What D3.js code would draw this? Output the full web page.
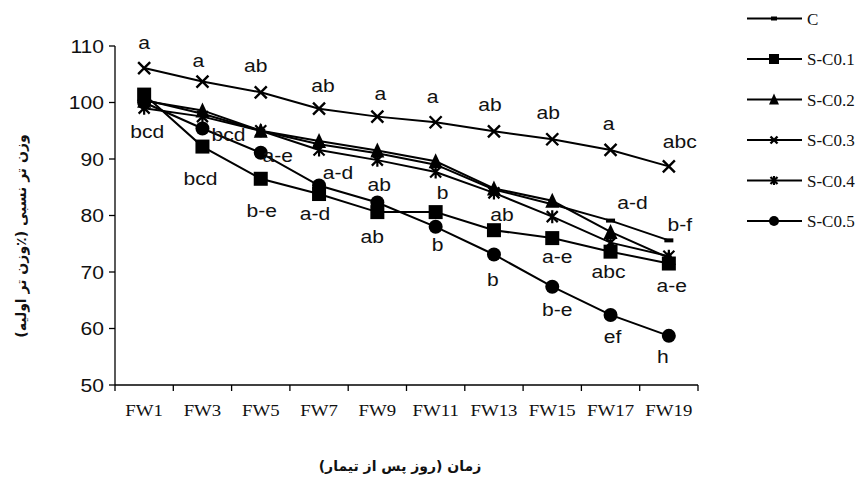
<!DOCTYPE html>
<html>
<head>
<meta charset="utf-8">
<script src="https://cdn.jsdelivr.net/npm/d3@7/dist/d3.min.js"></script>
<style>
  html, body { margin: 0; padding: 0; background: #fff; }
  svg { display: block; }
</style>
</head>
<body>
<svg id="chart" width="861" height="477"></svg>
<script>
// Sampling times (fresh weight measurements)
const categories = ["FW1", "FW3", "FW5", "FW7", "FW9", "FW11", "FW13", "FW15", "FW17", "FW19"];
const yTicks = [50, 60, 70, 80, 90, 100, 110];

// Relative fresh weight (% of initial) per treatment
const seriesNames = ["C", "S-C0.1", "S-C0.2", "S-C0.3", "S-C0.4", "S-C0.5"];
const valuesC    = [100.5, 98.0, 95.0, 92.6, 91.0, 89.0, 84.6, 82.0, 79.1, 75.6];
const valuesSC01 = [101.4, 92.2, 86.5, 83.8, 80.6, 80.6, 77.4, 76.0, 73.6, 71.5];
const valuesSC02 = [100.3, 98.6, 95.0, 93.2, 91.5, 89.6, 84.8, 82.6, 77.1, 72.5];
const valuesSC03 = [106.1, 103.7, 101.8, 98.9, 97.5, 96.5, 94.9, 93.5, 91.6, 88.7];
const valuesSC04 = [99.0, 97.5, 95.0, 91.6, 89.8, 87.7, 84.0, 79.8, 75.2, 72.8];
const valuesSC05 = [100.0, 95.4, 91.1, 85.3, 82.3, 78.0, 73.1, 67.4, 62.4, 58.7];
const seriesValues = [valuesC, valuesSC01, valuesSC02, valuesSC03, valuesSC04, valuesSC05];
const markerTypes = ["dash", "square", "triangle", "cross", "star", "circle"];

// Mean-separation letters: [series index, point index, letters]
const letterLabels = [
  [3, 0, "a"], [3, 1, "a"], [3, 2, "ab"], [3, 3, "ab"], [3, 4, "a"],
  [3, 5, "a"], [3, 6, "ab"], [3, 7, "ab"], [3, 8, "a"], [3, 9, "abc"],
  [4, 0, "bcd"], [5, 1, "bcd"], [5, 2, "a-e"], [1, 1, "bcd"], [1, 2, "b-e"],
  [5, 3, "a-d"], [1, 3, "a-d"], [5, 4, "ab"], [1, 4, "ab"], [1, 5, "b"],
  [5, 5, "b"], [1, 6, "ab"], [5, 6, "b"], [1, 7, "a-e"], [5, 7, "b-e"],
  [0, 8, "a-d"], [1, 8, "abc"], [5, 8, "ef"], [0, 9, "b-f"], [1, 9, "a-e"],
  [5, 9, "h"]
];
// Offsets (px) of each letter group from its point, same order as above
const letterNudge = [
  [0, -25], [-4, -21], [-5, -26], [4, -23], [3, -23],
  [-3, -25], [-4, -26], [-4, -26], [-2, -26], [11, -24],
  [3, 24], [26, 7], [17, 3], [-2, 32], [1, 32],
  [19, -13], [-4, 20], [2, -18], [-5, 25], [7, -19],
  [2, 18], [8, -15], [-1, 26], [5, 19], [5, 23],
  [22, -18], [-2, 20], [2, 22], [11, -15], [3, 22],
  [-6, 21]
];

const yTitle = "وزن تر نسبی (٪وزن تر اولیه)";
const xTitle = "زمان (روز پس از تیمار)";

const svg = d3.select("#chart");
const sx = 1.14; // horizontal text stretch

const x = d3.scaleBand().domain(categories).range([115, 698]).padding(0);
const y = d3.scaleLinear().domain([50, 110]).range([385, 46]);
const cx = c => x(c) + x.bandwidth() / 2;

function stretchedText(g, tx, ty, str, anchor) {
  return g.append("text")
    .attr("transform", `translate(${tx},${ty}) scale(${sx},1)`)
    .attr("text-anchor", anchor || "middle")
    .text(str);
}

// Axes
const axisG = svg.append("g").attr("stroke", "#000").attr("stroke-width", 1.3);
axisG.append("line").attr("x1", 115).attr("x2", 115).attr("y1", y(110)).attr("y2", y(50));
axisG.append("line").attr("x1", 115).attr("x2", x.range()[1]).attr("y1", y(50)).attr("y2", y(50));
yTicks.forEach(t => {
  axisG.append("line").attr("x1", 109).attr("x2", 115).attr("y1", y(t)).attr("y2", y(t));
});
const bounds = categories.map(c => x(c)).concat([x.range()[1]]);
bounds.forEach(b => {
  axisG.append("line").attr("x1", b).attr("x2", b).attr("y1", y(50)).attr("y2", y(50) + 6);
});

const yLab = svg.append("g").attr("font-family", "Liberation Sans, Arial, sans-serif")
  .attr("font-size", 18.5).attr("fill", "#111");
yTicks.forEach(t => stretchedText(yLab, 104, y(t) + 6.5, String(t), "end"));

const xLab = svg.append("g").attr("font-family", "Liberation Serif, Times New Roman, serif")
  .attr("font-size", 16.5).attr("fill", "#111");
categories.forEach(c => stretchedText(xLab, cx(c), 416, c));

// Lines
const line = d3.line().x((d, i) => cx(categories[i])).y(d => y(d));
const plot = svg.append("g");
seriesValues.forEach(vals => {
  plot.append("path").datum(vals).attr("d", line)
    .attr("fill", "none").attr("stroke", "#000").attr("stroke-width", 2);
});

// Marker drawing
function drawMarker(g, type, px, py, s) {
  const h = s / 2;
  if (type === "square") {
    g.append("rect").attr("x", px - h).attr("y", py - h).attr("width", s).attr("height", s).attr("fill", "#000");
  } else if (type === "circle") {
    g.append("circle").attr("cx", px).attr("cy", py).attr("r", h).attr("fill", "#000");
  } else if (type === "triangle") {
    g.append("path").attr("d", `M${px},${py - h - 1}L${px + h},${py + h}L${px - h},${py + h}Z`).attr("fill", "#000");
  } else if (type === "cross") {
    g.append("path").attr("d", `M${px - h},${py - h}L${px + h},${py + h}M${px - h},${py + h}L${px + h},${py - h}`)
      .attr("stroke", "#000").attr("stroke-width", 2.4).attr("fill", "none");
  } else if (type === "star") {
    g.append("path").attr("d", `M${px - h},${py - h}L${px + h},${py + h}M${px - h},${py + h}L${px + h},${py - h}M${px},${py - h - 1}L${px},${py + h + 1}`)
      .attr("stroke", "#000").attr("stroke-width", 2.2).attr("fill", "none");
  } else if (type === "dash") {
    g.append("rect").attr("x", px - s / 2).attr("y", py - 2).attr("width", s).attr("height", 4).attr("fill", "#000");
  }
}
const markerSize = { square: 14, circle: 14, triangle: 14, cross: 12, star: 11, dash: 9 };
seriesValues.forEach((vals, si) => {
  vals.forEach((v, i) => drawMarker(plot, markerTypes[si], cx(categories[i]), y(v), markerSize[markerTypes[si]]));
});

// Letters
const letG = svg.append("g").attr("font-family", "Liberation Sans, Arial, sans-serif")
  .attr("font-size", 18.5).attr("fill", "#111");
letterLabels.forEach((lab, k) => {
  const [si, pi, txt] = lab;
  const [dx, dy] = letterNudge[k];
  stretchedText(letG, cx(categories[pi]) + dx, y(seriesValues[si][pi]) + dy + 6, txt);
});

// Legend
const leg = svg.append("g");
const legMarkSize = { square: 10, circle: 10, triangle: 10, cross: 7, star: 7, dash: 6 };
seriesNames.forEach((name, i) => {
  const ly = 18.5 + i * 40.5;
  leg.append("line").attr("x1", 747).attr("x2", 802).attr("y1", ly).attr("y2", ly)
    .attr("stroke", "#000").attr("stroke-width", 2);
  drawMarker(leg, markerTypes[i], 774, ly, legMarkSize[markerTypes[i]]);
  leg.append("text").attr("x", 807).attr("y", ly + 6)
    .attr("font-family", "Liberation Serif, Times New Roman, serif").attr("font-size", 17)
    .attr("fill", "#111").text(name);
});

// Axis titles
svg.append("text")
  .attr("transform", `translate(26,${236}) rotate(-90)`)
  .attr("text-anchor", "middle").attr("direction", "rtl")
  .attr("font-family", "DejaVu Sans, sans-serif").attr("font-weight", "bold").attr("font-size", 14)
  .attr("fill", "#111").text(yTitle);
svg.append("text")
  .attr("x", 400).attr("y", 471)
  .attr("text-anchor", "middle").attr("direction", "rtl")
  .attr("font-family", "DejaVu Sans, sans-serif").attr("font-weight", "bold").attr("font-size", 14)
  .attr("fill", "#111").text(xTitle);
</script>
</body>
</html>
